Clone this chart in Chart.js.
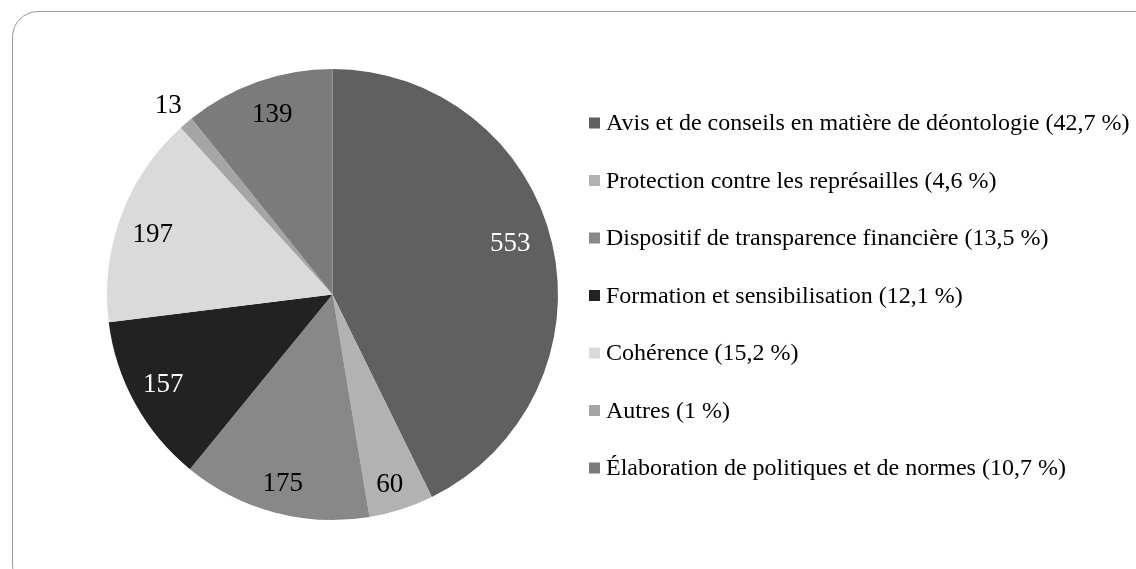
<!DOCTYPE html>
<html>
<head>
<meta charset="utf-8">
<script src="https://cdn.jsdelivr.net/npm/chart.js@4.4.0/dist/chart.umd.min.js"></script>
<style>
  html, body { margin: 0; padding: 0; background: #fff; overflow: hidden; }
  #wrap { position: relative; width: 1136px; height: 569px; }
  #frame {
    position: absolute; left: 12px; top: 11px; width: 1150px; height: 580px;
    border: 1.5px solid #9a9a9a; border-radius: 26px; box-sizing: border-box;
  }
  canvas { position: absolute; left: 0; top: 0; }
</style>
</head>
<body>
<div id="wrap">
  <div id="frame"></div>
  <canvas id="pieChart" width="1136" height="569"></canvas>
</div>
<script>
// categories, in the order they go round the pie (clockwise from 12 o'clock)
const categories = [
  'Avis et de conseils en matière de déontologie',
  'Protection contre les représailles',
  'Dispositif de transparence financière',
  'Formation et sensibilisation',
  'Cohérence',
  'Autres',
  'Élaboration de politiques et de normes'
];
const counts = [553, 60, 175, 157, 197, 13, 139];
const sliceColors = ['#606060', '#b2b2b2', '#888888', '#222222', '#dadada', '#a5a5a5', '#7b7b7b'];
const labelColors = ['#ffffff', '#000000', '#000000', '#ffffff', '#000000', '#000000', '#000000'];
// where each value label sits: [fraction of radius, nudge in degrees]
const labelPlace = [[0.82, -2.8], [0.88, 1], [0.87, -0.2], [0.85, 0.9], [0.84, -2], [1.11, -0.5], [0.84, 0.8]];

const FONT = '"Liberation Serif", "Times New Roman", serif';
const total = counts.reduce((a, b) => a + b, 0);

const pctText = (v) => {
  let s = (v / total * 100).toFixed(1).replace('.', ',');
  if (s.endsWith(',0')) s = s.slice(0, -2);
  return s + ' %';
};

// value labels drawn on each slice
const sliceLabels = {
  id: 'sliceLabels',
  afterDatasetsDraw(chart) {
    const ctx = chart.ctx;
    const meta = chart.getDatasetMeta(0);
    ctx.save();
    ctx.font = '27px ' + FONT;
    ctx.textAlign = 'center';
    ctx.textBaseline = 'middle';
    meta.data.forEach((arc, i) => {
      const { x, y, startAngle, endAngle, outerRadius } = arc.getProps(['x', 'y', 'startAngle', 'endAngle', 'outerRadius'], true);
      const mid = (startAngle + endAngle) / 2 + labelPlace[i][1] * Math.PI / 180;
      const r = outerRadius * labelPlace[i][0];
      ctx.fillStyle = labelColors[i];
      ctx.fillText(String(counts[i]), x + Math.cos(mid) * r, y + Math.sin(mid) * r);
    });
    ctx.restore();
  }
};

// legend on the right
const sideLegend = {
  id: 'sideLegend',
  afterDraw(chart) {
    const ctx = chart.ctx;
    const left = 589, top = 123, step = 57.5, box = 11;
    ctx.save();
    ctx.font = '24px ' + FONT;
    ctx.textBaseline = 'middle';
    ctx.textAlign = 'left';
    categories.forEach((name, i) => {
      const cy = top + i * step;
      ctx.fillStyle = sliceColors[i];
      ctx.fillRect(left, cy - box / 2, box, box);
      ctx.fillStyle = '#000000';
      ctx.fillText(name + ' (' + pctText(counts[i]) + ')', left + 17, cy + 1);
    });
    ctx.restore();
  }
};

new Chart(document.getElementById('pieChart'), {
  type: 'pie',
  data: {
    labels: categories,
    datasets: [{
      data: counts,
      backgroundColor: sliceColors,
      borderWidth: 0
    }]
  },
  options: {
    responsive: false,
    animation: false,
    layout: { padding: { left: 107, right: 578, top: 69, bottom: 49 } },
    plugins: {
      legend: { display: false },
      tooltip: { enabled: false }
    }
  },
  plugins: [sliceLabels, sideLegend]
});
</script>
</body>
</html>
